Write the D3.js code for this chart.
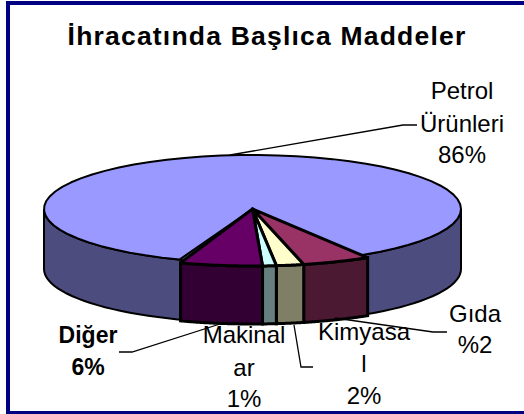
<!DOCTYPE html>
<html>
<head>
<meta charset="utf-8">
<script src="https://cdn.jsdelivr.net/npm/d3@7"></script>
<style>
	html, body { margin: 0; padding: 0; background: #fff; }
	svg { display: block; }
	text { font-family: "Liberation Sans", Arial, sans-serif; fill: #000; }
</style>
</head>
<body>
<svg id="chart" width="524" height="414"></svg>
<script>
var categories = ['Petrol Ürünleri', 'Gıda', 'Kimyasal', 'Makinalar', 'Diğer'];
var shares = [86, 5, 2, 1, 6];
var topColors = ['#9999ff', '#993366', '#ffffcc', '#ccffff', '#660066'];
var sideColors = ['#4c4c7f', '#4c1933', '#7f7f66', '#667f7f', '#330033'];

var w = 524, h = 414;
var svg = d3.select('#chart');
var rad = Math.PI / 180;

// plot frame, its right side runs off the picture
svg.append('rect')
	.attr('x', 8).attr('y', 3)
	.attr('width', 530).attr('height', 410)
	.attr('fill', '#fff')
	.attr('stroke', '#000080')
	.attr('stroke-width', 4);

svg.append('text')
	.attr('x', 267).attr('y', 45)
	.attr('text-anchor', 'middle')
	.attr('font-size', 26.5)
	.attr('font-weight', 'bold')
	.attr('letter-spacing', 1.2)
	.text('İhracatında Başlıca Maddeler');

// pie angles, clockwise from top
var pie = d3.pie().sort(null).startAngle(199 * rad).endAngle(559 * rad);
var slices = pie(shares).map(function(d, i) {
	return {
		start: d.startAngle,
		end: d.endAngle,
		top: topColors[i],
		side: sideColors[i]
	};
});

var bigGeo = { cx: 252.5, cy: 209, rx: 208.5, ry: 54, depth: 60 };
var smallGeo = { cx: 252.5, cy: 209, rx: 221, ry: 57, depth: 58 };

function rim(g, a, dy) {
	return [g.cx + g.rx * Math.sin(a), g.cy - g.ry * Math.cos(a) + (dy || 0)];
}

function arcPoints(g, a0, a1, dy) {
	return d3.range(0, 61).map(function(k) {
		return rim(g, a0 + (a1 - a0) * k / 60, dy);
	});
}

var line = d3.line();

function drawWall(a0, a1, color, g, sw) {
	var pts = arcPoints(g, a0, a1, 0).concat(arcPoints(g, a1, a0, g.depth));
	svg.append('path').attr('d', line(pts) + 'Z')
		.attr('fill', color).attr('stroke', '#000').attr('stroke-width', sw);
}

function drawTop(a0, a1, color, g, sw) {
	var pts = [[g.cx, g.cy]].concat(arcPoints(g, a0, a1, 0));
	svg.append('path').attr('d', line(pts) + 'Z')
		.attr('fill', color).attr('stroke', '#000').attr('stroke-width', sw)
		.attr('stroke-linejoin', 'round');
}

// Petrol: whole front wall, sliver of its cut face, then the top (runs under Gıda)
var petrol = slices[0];
drawWall(90 * rad, 270 * rad, petrol.side, bigGeo, 2);
drawTop(petrol.start - 3 * rad, petrol.start + 1.5 * rad, petrol.side, bigGeo, 1);
drawTop(petrol.start + 1.5 * rad, petrol.end + 4 * rad, petrol.top, bigGeo, 2);

slices.slice(1).forEach(function(s) { drawWall(s.start, s.end, s.side, smallGeo, 3); });
slices.slice(1).forEach(function(s) { drawTop(s.start, s.end, s.top, smallGeo, 3); });

// leader lines
var leaders = [
	[[230, 155], [403, 125], [417, 125]],
	[[335, 318], [433, 332], [447, 332]],
	[[294, 325], [301, 367], [313, 367]],
	[[220, 324], [132, 352], [119, 352]]
];
leaders.forEach(function(l) {
	svg.append('path').attr('d', line(l))
		.attr('fill', 'none').attr('stroke', '#000').attr('stroke-width', 1.3);
});

// labels
var labelLines = [
	{ x: 462, y: 99, size: 24, t: 'Petrol' },
	{ x: 462, y: 132, size: 24, t: 'Ürünleri' },
	{ x: 462, y: 163, size: 24, t: '86%' },
	{ x: 475, y: 322, size: 24, t: 'Gıda' },
	{ x: 475, y: 353, size: 24, t: '%2' },
	{ x: 364, y: 340, size: 24, t: 'Kimyasa' },
	{ x: 364, y: 372, size: 24, t: 'l' },
	{ x: 364, y: 404, size: 24, t: '2%' },
	{ x: 244, y: 343, size: 24, t: 'Makinal' },
	{ x: 244, y: 376, size: 24, t: 'ar' },
	{ x: 244, y: 407, size: 24, t: '1%' },
	{ x: 88, y: 343, size: 23, t: 'Diğer', bold: true },
	{ x: 88, y: 375, size: 23, t: '6%', bold: true }
];
labelLines.forEach(function(d) {
	svg.append('text')
		.attr('x', d.x).attr('y', d.y)
		.attr('text-anchor', 'middle')
		.attr('font-size', d.size)
		.attr('font-weight', d.bold ? 'bold' : 'normal')
		.text(d.t);
});
</script>
</body>
</html>
